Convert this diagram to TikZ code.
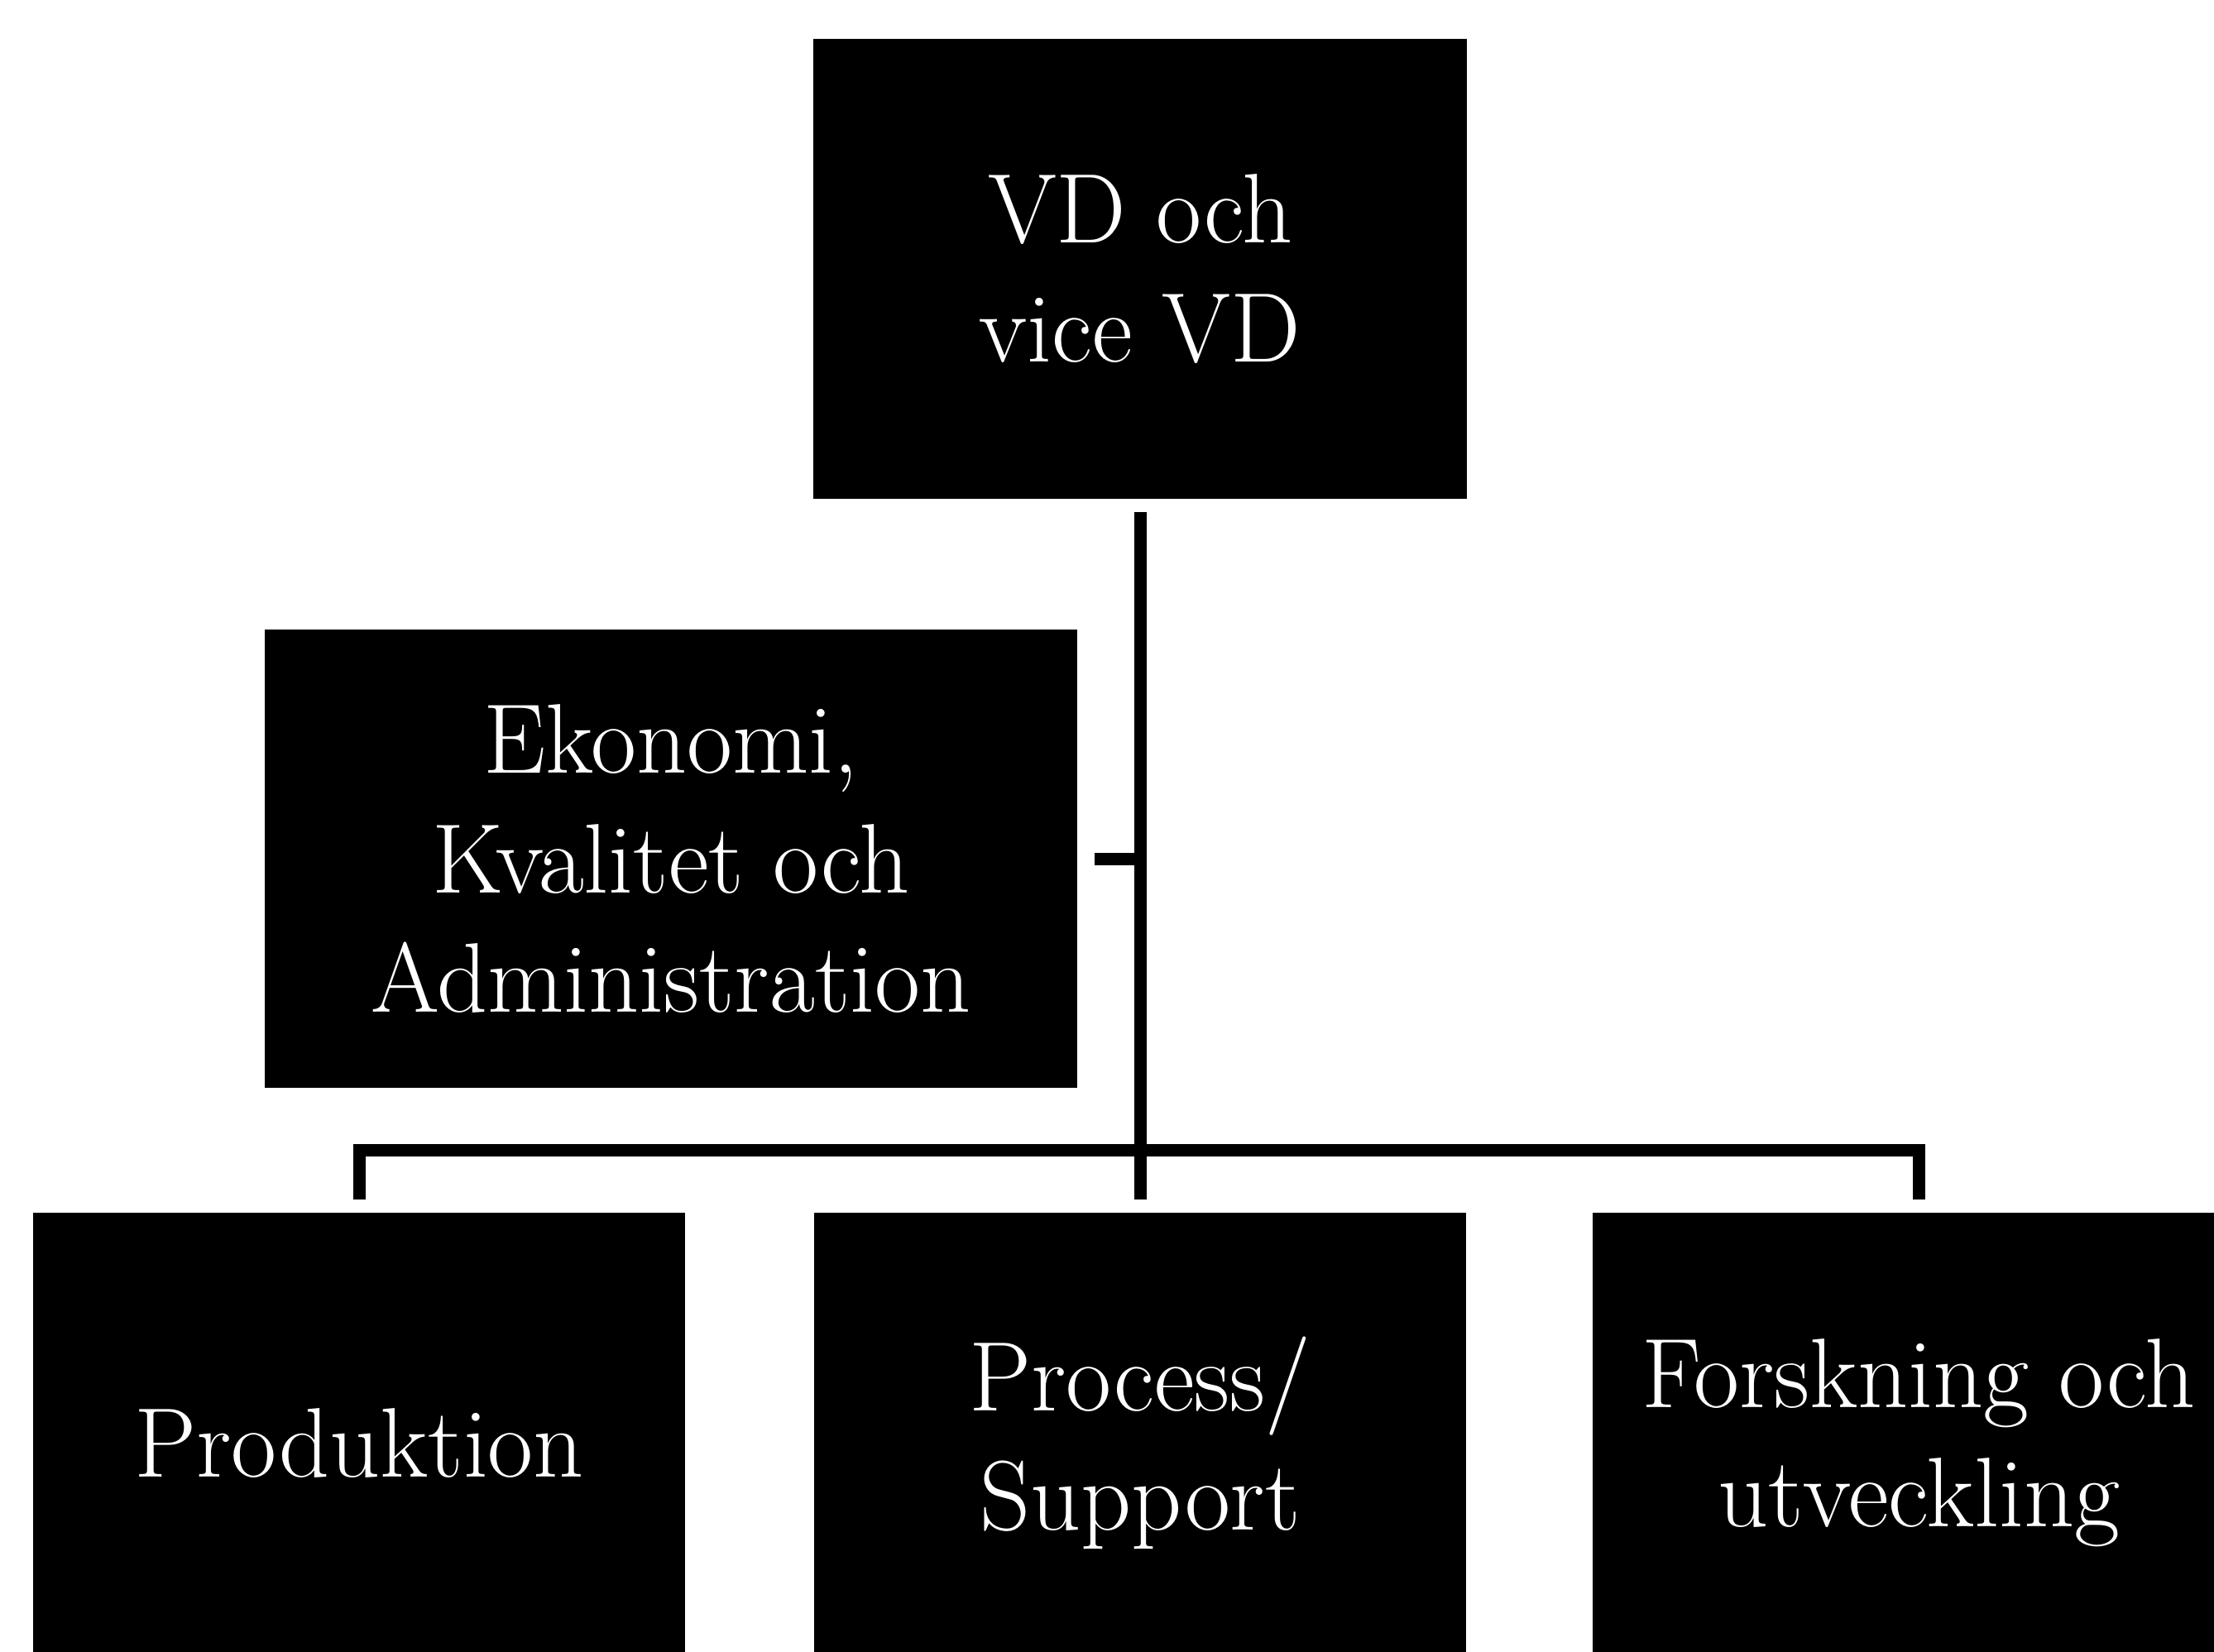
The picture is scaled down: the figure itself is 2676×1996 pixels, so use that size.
\documentclass[tikz,border=0pt]{standalone}
\usepackage{amsmath}
\usepackage{tikz}

\begin{document}
\begin{tikzpicture}[x=0.01cm,y=0.01cm,yscale=-1,xscale=1,
  unit/.style={fill=black,text=white,inner sep=0pt,align=center,
    minimum width=7.9cm,minimum height=5.56cm,
    font=\fontsize{34}{41}\selectfont},
  conn/.style={draw=black,line width=0.15cm,line join=miter}]
%set diagram to 2676 x 1996, boxes run over the right and bottom edge
\path[use as bounding box,clip] (0,0) rectangle (2676,1996);

% Boxes
\node[unit] (vd) at (1378,325) {VD och\\vice VD};
\node[unit,minimum width=9.82cm,minimum height=5.53cm] (eka) at (811,1038) {Ekonomi,\\Kvalitet och\\Administration};
\node[unit,minimum width=7.88cm] (prod) at (434,1744) {Produktion};
\node[unit,minimum width=7.88cm] (proc) at (1378,1744) {Process/\\Support};
\node[unit,minimum width=7.88cm] (fou) at (2319,1744) {Forskning och\\utveckling};

% Lines
\coordinate (bus) at (1378,1390);
\draw[conn,shorten <=0.15cm,shorten >=0.15cm] (vd.south) -- (proc.north);
\draw[conn,shorten <=0.15cm,shorten >=0.15cm] (prod.north) -- (prod.north |- bus) -- (fou.north |- bus) -- (fou.north);
\draw[conn,shorten <=0.2cm] (eka.east) -- (eka.east -| vd.south);

\end{tikzpicture}
\end{document}
